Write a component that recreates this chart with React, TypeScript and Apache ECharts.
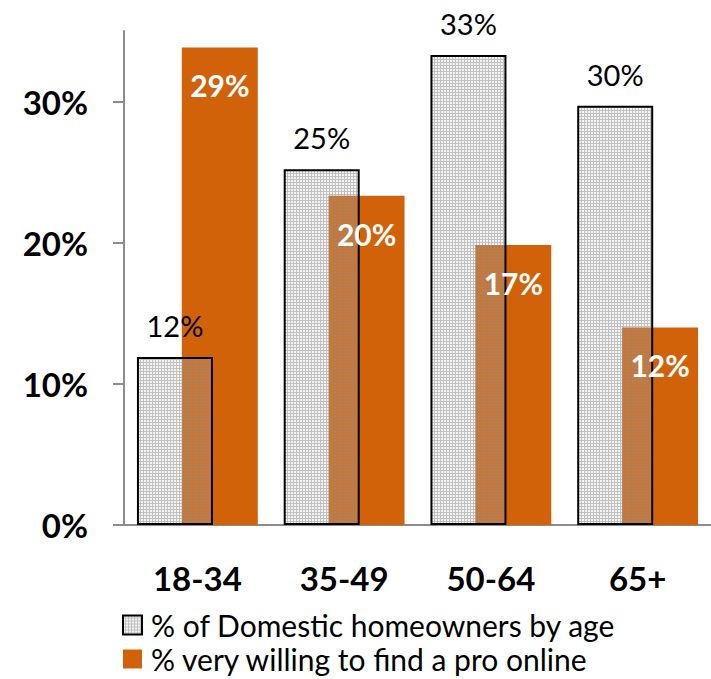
import React, { useEffect, useRef } from 'react';
import * as echarts from 'echarts';

const categories = ['18-34', '35-49', '50-64', '65+'];
const homeownerShare = [11.9, 25.2, 33.3, 29.7];
const willingShare = [29, 20, 17, 12];
const yTicks = [0, 10, 20, 30];
const seriesNames = ['% of Domestic homeowners by age', '% very willing to find a pro online'];

const FONT = 'Lato, "Open Sans", sans-serif';
const ORANGE = '#D2620A';
const AXIS_GRAY = '#8c8c8c';

function makePattern(): HTMLCanvasElement {
  const c = document.createElement('canvas');
  c.width = 3;
  c.height = 3;
  const ctx = c.getContext('2d')!;
  ctx.fillStyle = 'rgba(200,200,200,0.18)';
  ctx.fillRect(0, 0, 3, 3);
  ctx.fillStyle = 'rgba(140,140,140,0.5)';
  ctx.fillRect(0, 2, 3, 1);
  ctx.fillRect(2, 0, 1, 2);
  return c;
}

export default function App() {
  const ref = useRef<HTMLDivElement>(null);
  useEffect(() => {
    if (!ref.current) return;
    const chart = echarts.init(ref.current, undefined, { renderer: 'svg' });
    const pattern = { image: makePattern(), repeat: 'repeat', imageWidth: 3, imageHeight: 3 } as any;
    chart.setOption({
      animation: false,
      backgroundColor: '#fff',
      grid: { left: 124, right: -6, top: 31, bottom: 154 },
      legend: {
        data: seriesNames,
        orient: 'vertical',
        left: 122,
        top: 610,
        height: 80,
        padding: 0,
        icon: 'rect',
        itemWidth: 19,
        itemHeight: 19,
        itemGap: 4,
        textStyle: { fontSize: 30, fontFamily: FONT, color: '#000', padding: [0, 0, 0, 4] },
      },
      xAxis: [
        {
          type: 'category',
          data: categories,
          axisLine: { lineStyle: { color: AXIS_GRAY, width: 2 } },
          axisTick: { length: 12, lineStyle: { color: AXIS_GRAY, width: 2 } },
          axisLabel: { fontFamily: FONT, fontSize: 33, fontWeight: 'bold', color: '#000', margin: 36 },
        },
        { type: 'category', data: categories, show: false },
      ],
      yAxis: [
        {
          type: 'value',
          min: 0,
          max: 35,
          axisLine: { show: true, lineStyle: { color: AXIS_GRAY, width: 2 } },
          axisTick: { show: true, length: 11, customValues: yTicks, lineStyle: { color: AXIS_GRAY, width: 2 } },
          axisLabel: {
            customValues: yTicks,
            formatter: (v: number) => `${v}%`,
            fontFamily: FONT,
            fontSize: 33,
            fontWeight: 'bold',
            color: '#000',
            margin: 36,
          },
          splitLine: { show: false },
        },
        { type: 'value', min: 0, max: 30, show: false },
      ],
      series: [
        {
          name: seriesNames[0],
          type: 'bar',
          xAxisIndex: 0,
          yAxisIndex: 0,
          data: homeownerShare,
          barWidth: 76,
          z: 3,
          itemStyle: { color: pattern, borderColor: '#000', borderWidth: 2 },
          label: {
            show: true,
            position: 'top',
            distance: 17,
            formatter: (p: any) => `${Math.round(p.value)}%`,
            fontFamily: FONT,
            fontSize: 29,
            color: '#000',
          },
        },
        {
          name: seriesNames[1],
          type: 'bar',
          xAxisIndex: 0,
          yAxisIndex: 1,
          data: willingShare,
          barWidth: 76,
          barGap: '-41%',
          z: 2,
          itemStyle: { color: ORANGE },
        },
        {
          name: 'labels',
          type: 'bar',
          xAxisIndex: 1,
          yAxisIndex: 1,
          data: willingShare,
          barWidth: 121,
          z: 4,
          silent: true,
          itemStyle: { color: 'rgba(0,0,0,0)' },
          label: {
            show: true,
            position: 'insideTop',
            distance: 23,
            offset: [22.5, 0],
            formatter: (p: any) => `${p.value}%`,
            fontFamily: FONT,
            fontSize: 30,
            fontWeight: 'bold',
            color: '#fff',
          },
        },
      ],
    });
    return () => chart.dispose();
  }, []);
  return <div ref={ref} style={{ position: 'fixed', left: 0, top: 0, width: 711, height: 679 }} />;
}
